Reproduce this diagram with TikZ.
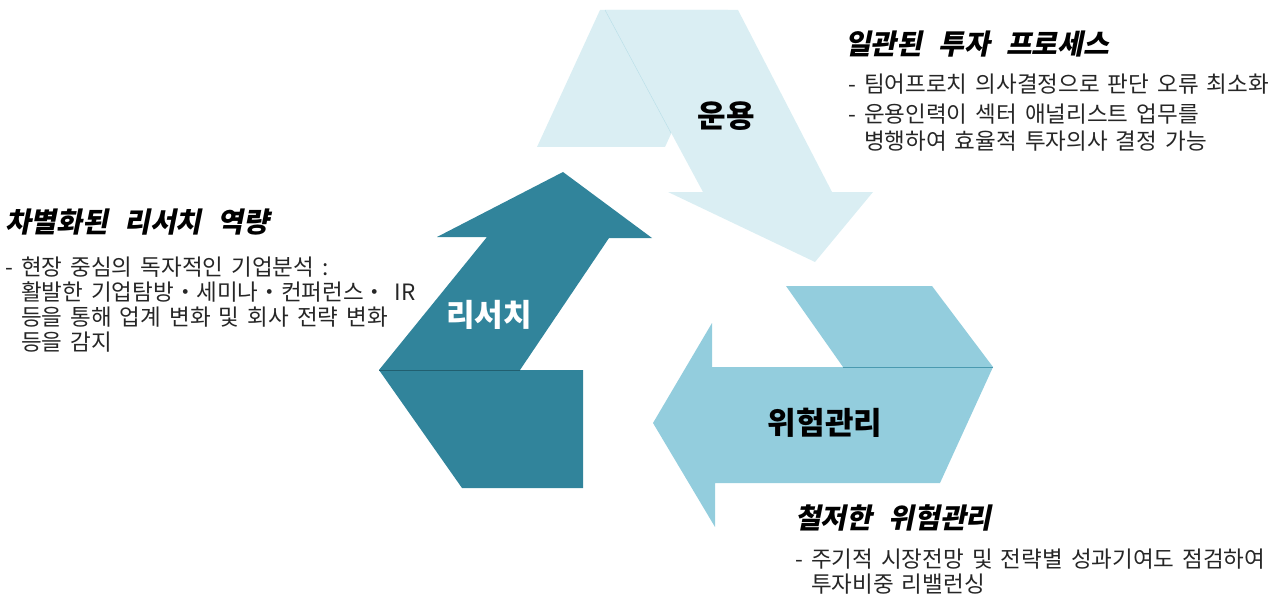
\documentclass[tikz,border=0pt]{standalone}
\usepackage{fontspec}
\setmainfont{Noto Sans CJK KR}[WordSpace=1.6]
\newfontfamily\titlefont[FakeSlant=0.2,WordSpace=2.5]{Noto Sans CJK KR}
\definecolor{paleaqua}{HTML}{DAEEF3}
\definecolor{paleline}{HTML}{B7DEE8}
\definecolor{deepaqua}{HTML}{31849B}
\definecolor{deepline}{HTML}{215F70}
\definecolor{midaqua}{HTML}{93CDDD}
\definecolor{midline}{HTML}{4A9AB0}
\tikzset{
  blocktitle/.style={anchor=north west,inner sep=0pt,font=\titlefont\bfseries\fontsize{28}{30}\selectfont},
  blocktext/.style={anchor=north west,inner sep=0pt,align=left,text=black!85,font=\fontsize{22.5}{25}\selectfont},
  arrowlabel/.style={inner sep=0pt,font=\bfseries\fontsize{31}{33}\selectfont}
}
\begin{document}
\begin{tikzpicture}[x=1pt,y=-1pt]
  \useasboundingbox (0,0) rectangle (1280,599);
  \fill[paleaqua] (600,10) -- (728,10) -- (665,147) -- (537,147) -- cycle;
  \fill[paleaqua] (605,10) -- (738,10) -- (832,192) -- (873,192) -- (815,262) -- (668,192) -- (703,192) -- cycle;
  \draw[paleline,thin] (605,10) -- (671,133);
  \fill[deepaqua] (379,370) -- (583,370) -- (583,488) -- (462,488) -- cycle;
  \fill[deepaqua] (379,370) -- (487,237) -- (437,237) -- (563,172) -- (652,238) -- (609,238) -- (520,370) -- cycle;
  \draw[deepline,thick] (379,370) -- (520,370);
  \fill[midaqua] (786,286) -- (932,286) -- (993,367) -- (843,367) -- cycle;
  \fill[midaqua] (993,367) -- (940,483) -- (715,483) -- (715,527) -- (653,423) -- (712,323) -- (712,367) -- cycle;
  \draw[midline,thick] (843,367) -- (993,367);
  \node[arrowlabel] (unyong) at (726,116) {운용};
  \node[arrowlabel,white] (research) at (489,315) {리서치};
  \node[arrowlabel] (risk) at (825,423) {위험관리};
  \node[blocktitle] (t-unyong) at (845,31) {일관된 투자 프로세스};
  \node[blocktext,font=\fontsize{22.5}{27}\selectfont] (d-unyong) at (848,74) {- 팀어프로치 의사결정으로 판단 오류 최소화\\[3pt] - 운용인력이 섹터 애널리스트 업무를\\ \phantom{- }병행하여 효율적 투자의사 결정 가능};
  \node[blocktitle] (t-research) at (5,209) {차별화된 리서치 역량};
  \node[blocktext] (d-research) at (5,257) {- 현장 중심의 독자적인 기업분석 :\\ \phantom{- }활발한 기업탐방・세미나・컨퍼런스・ IR\\ \phantom{- }등을 통해 업계 변화 및 회사 전략 변화\\ \phantom{- }등을 감지};
  \node[blocktitle] (t-risk) at (795,504) {철저한 위험관리};
  \node[blocktext] (d-risk) at (795,549) {- 주기적 시장전망 및 전략별 성과기여도 점검하여\\ \phantom{- }투자비중 리밸런싱};
\end{tikzpicture}
\end{document}
